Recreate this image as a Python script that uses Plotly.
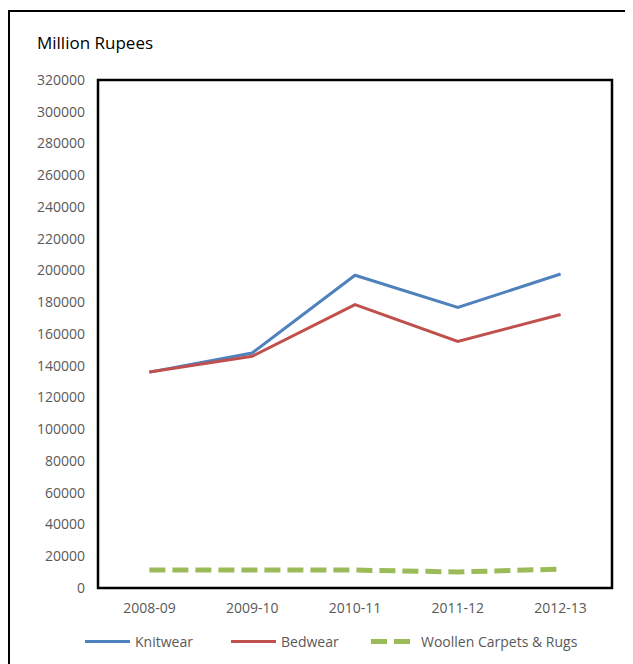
import plotly.graph_objects as go

categories = ["2008-09", "2009-10", "2010-11", "2011-12", "2012-13"]
knitwear = [136000, 148000, 197000, 176700, 197800]
bedwear = [136000, 146000, 178500, 155300, 172300]
woollen = [11300, 11300, 11300, 10100, 11900]
y_ticks = list(range(0, 320001, 20000))

OFF = 8  # default body margin of the html page
W, H = 633 - OFF, 664 - OFF
L, R, T, B = 98 - OFF, 21, 80 - OFF, 76
pw = W - L - R
ph = H - T - B

def px(x):
    return (x - OFF - L) / pw

def py(y):
    return (H - B - (y - OFF)) / ph

font_family = "Open Sans, Liberation Sans, sans-serif"
leg_font = dict(family=font_family, size=14, color="#595959")

fig = go.Figure()
fig.add_trace(go.Scatter(x=categories, y=knitwear, mode="lines", name="Knitwear",
                         line=dict(color="#4F81BD", width=3), legend="legend"))
fig.add_trace(go.Scatter(x=categories, y=bedwear, mode="lines", name="Bedwear",
                         line=dict(color="#C0504D", width=3), legend="legend2"))
fig.add_trace(go.Scatter(x=categories, y=woollen, mode="lines", name="Woollen Carpets & Rugs",
                         line=dict(color="#9BBB59", width=5, dash="16px,7px"), legend="legend3"))

def leg(xs):
    return dict(orientation="h", x=px(xs), xanchor="left", y=py(642), yanchor="middle",
                font=leg_font, bgcolor="rgba(0,0,0,0)", borderwidth=0, itemwidth=45)

fig.update_layout(
    width=W, height=H,
    margin=dict(l=L, r=R, t=T, b=B, autoexpand=False),
    paper_bgcolor="white", plot_bgcolor="white",
    showlegend=True,
    legend=leg(80),
    legend2=leg(226),
    legend3=leg(366),
    font=dict(family=font_family, color="#595959"),
    xaxis=dict(type="category", range=[-0.5, 4.5], showgrid=False, zeroline=False,
               showline=False, ticks="", tickfont=dict(size=14, color="#595959"),
               ticklabelstandoff=10),
    yaxis=dict(range=[0, 320000], tickvals=y_ticks, ticktext=[str(v) for v in y_ticks],
               showgrid=False, zeroline=False, showline=False, ticks="",
               tickfont=dict(size=14, color="#595959"), ticklabelstandoff=12),
    annotations=[dict(text="Million Rupees", x=px(35), y=py(43), xref="paper", yref="paper",
                      xanchor="left", yanchor="middle", showarrow=False,
                      font=dict(family=font_family, size=17, color="black"))],
    shapes=[
        dict(type="rect", xref="paper", yref="paper", x0=0, x1=1, y0=0, y1=1,
             line=dict(color="black", width=2.5), fillcolor="rgba(0,0,0,0)", layer="above"),
        dict(type="rect", xref="paper", yref="paper", x0=px(9), x1=px(631), y0=py(690), y1=py(11),
             line=dict(color="black", width=2), fillcolor="rgba(0,0,0,0)", layer="below"),
    ],
)

fig.write_html("out.html")
